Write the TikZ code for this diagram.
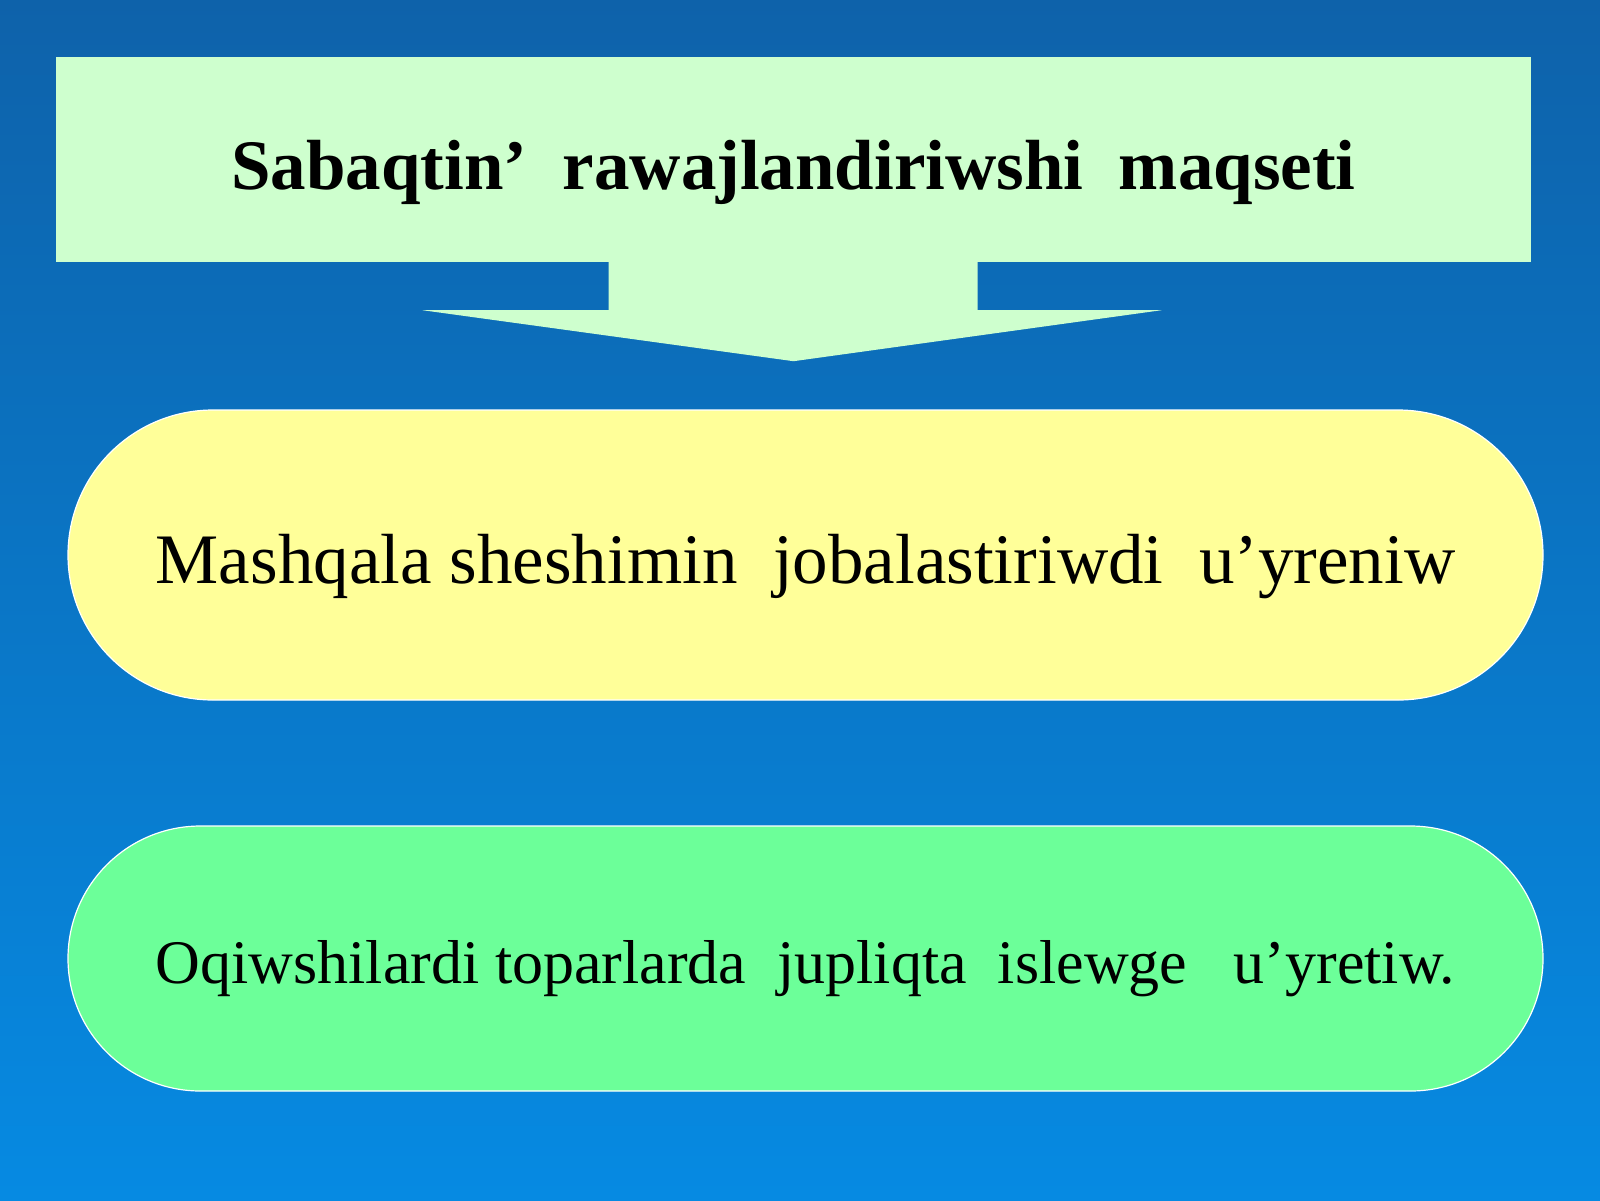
\documentclass[tikz,border=0pt]{standalone}
\usepackage{fontspec}
\setmainfont{Liberation Serif}
\usetikzlibrary{shapes.misc,positioning}

\definecolor{bgtop}{RGB}{14,98,170}
\definecolor{bgmid}{RGB}{10,104,182}
\definecolor{bgbot}{RGB}{6,138,226}
\definecolor{goalfill}{RGB}{206,255,206}
\definecolor{taskfill}{RGB}{255,255,153}
\definecolor{skillfill}{RGB}{108,255,153}

\begin{document}
\begin{tikzpicture}[x=1pt,y=1pt,yscale=-1,xscale=1,
  goalbox/.style={fill=goalfill,minimum width=1475pt,minimum height=205pt,inner sep=0pt},
  pill/.style={rounded rectangle,draw=white,line width=1.2pt,minimum width=1475pt,inner sep=0pt}]
%set diagram left start at 0, and has height of 1200
\useasboundingbox (0,0) rectangle (1600,1200);

%Shape: Background
\shade[top color=bgtop,middle color=bgmid,bottom color=bgbot] (0,0) rectangle (1600,1200);

%Shape: Rectangle with arrow
\node[goalbox,text height=74pt,text depth=15pt] (goal) at (793.5,159.5)
  {\fontsize{71}{80}\selectfont\bfseries Sabaqtin’\ \ rawajlandiriwshi\ \ maqseti};
\fill[goalfill] (goal.south) ++(-185,-1) -- ++(0,49) -- ++(-186,0) -- ++(371,51)
  -- ++(368,-51) -- ++(-184,0) -- ++(0,-49) -- cycle;

%Shape: Rounded Rectangle
\node[pill,fill=taskfill,minimum height=290pt,text height=70pt,text depth=14pt] (task) at (805.5,555)
  {\fontsize{71}{80}\selectfont Mashqala sheshimin\ \ jobalastiriwdi\ \ u’yreniw};
%Shape: Rounded Rectangle
\node[pill,fill=skillfill,minimum height=265pt,text height=65pt,text depth=16pt] (skill) at (805.5,958.5)
  {\fontsize{62}{72}\selectfont Oqiwshilardi toparlarda\ \ jupliqta\ \ islewge\ \ \ u’yretiw.};

\end{tikzpicture}
\end{document}
